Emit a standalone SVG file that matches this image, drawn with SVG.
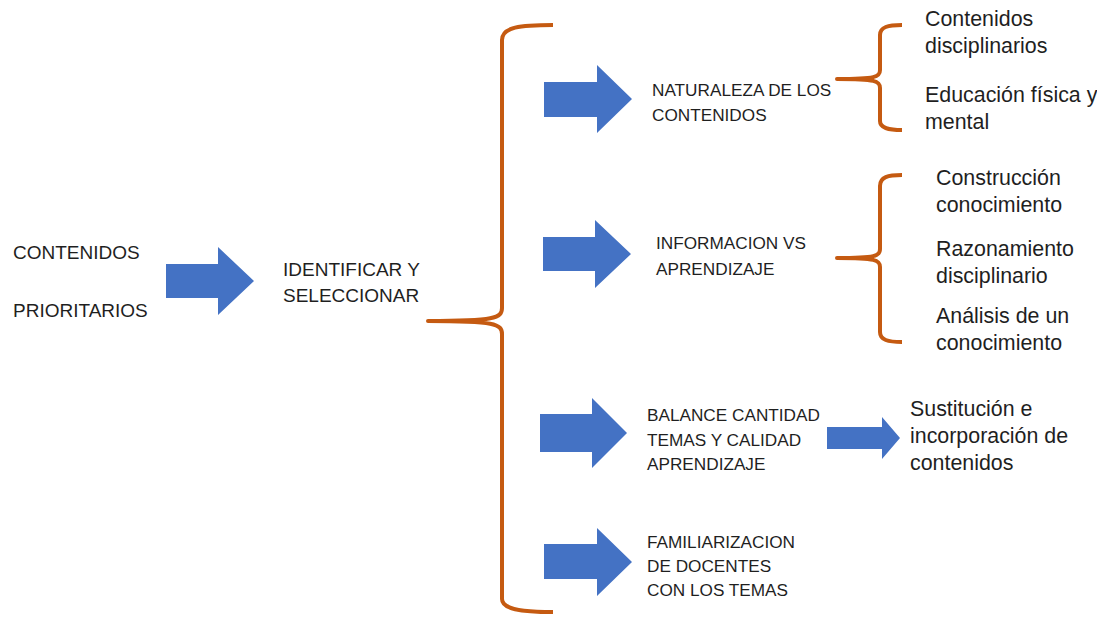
<svg xmlns="http://www.w3.org/2000/svg" width="1097" height="617" viewBox="0 0 1097 617">
  <style>
    .arrow { fill: #4472C4; }
    .brace { fill: none; stroke: #C55A11; stroke-width: 4; stroke-linecap: butt; stroke-linejoin: round; }
    text { font-family: "Liberation Sans", Arial, sans-serif; fill: #1f1f1f; }
    .big { font-size: 19px; }
    .cap { font-size: 17.2px; }
    .low { font-size: 21.4px; }
  </style>
  <rect width="1097" height="617" fill="#ffffff"/>

  <!-- connectors: block arrows and braces -->
  <g id="connectors">
    <polygon class="arrow" points="166,264 218,264 218,247 254,281 218,315 218,298 166,298"/>
    <polygon class="arrow" points="544,82 597,82 597,65 632,99 597,133 597,117 544,117"/>
    <polygon class="arrow" points="543,237 595,237 595,220 631,254 595,288 595,271 543,271"/>
    <polygon class="arrow" points="540,414 592,414 592,398 627,433 592,468 592,452 540,452"/>
    <polygon class="arrow" points="544,544 597,544 597,528 632,562 597,596 597,579 544,579"/>
    <polygon class="arrow" points="827,427 882,427 882,417 900,438 882,459 882,449 827,449"/>

    <path class="brace" d="M553,25 C520,25 502,27 502,40 L502,308 C502,318 495,321 428,321 C495,321 502,324 502,334 L502,599 C502,609 520,612 553,612"/>
    <path class="brace" d="M902,25 C888,25 880,27 880,35 L880,70 C880,77 876,79 837,79 C876,79 880,81 880,88 L880,121 C880,128 888,130 902,130"/>
    <path class="brace" d="M902,175 C888,175 880,177 880,186 L880,249 C880,256 876,258 837,258 C876,258 880,260 880,267 L880,332 C880,340 888,342 902,342"/>
  </g>

  <g id="contenidos-prioritarios">
    <text class="big" x="13" y="259">CONTENIDOS</text>
    <text class="big" x="13" y="317">PRIORITARIOS</text>
  </g>

  <g id="identificar">
    <text class="big" x="283" y="276">IDENTIFICAR Y</text>
    <text class="big" x="283" y="302">SELECCIONAR</text>
  </g>

  <g id="naturaleza">
    <text class="cap" x="652" y="96">NATURALEZA DE LOS</text>
    <text class="cap" x="652" y="121">CONTENIDOS</text>
  </g>

  <g id="informacion">
    <text class="cap" x="656" y="249">INFORMACION VS</text>
    <text class="cap" x="656" y="275">APRENDIZAJE</text>
  </g>

  <g id="balance">
    <text class="cap" x="647" y="421">BALANCE CANTIDAD</text>
    <text class="cap" x="647" y="446">TEMAS Y CALIDAD</text>
    <text class="cap" x="647" y="470">APRENDIZAJE</text>
  </g>

  <g id="familiarizacion">
    <text class="cap" x="647" y="548">FAMILIARIZACION</text>
    <text class="cap" x="647" y="572">DE DOCENTES</text>
    <text class="cap" x="647" y="596">CON LOS TEMAS</text>
  </g>

  <g id="contenidos-disciplinarios">
    <text class="low" x="925" y="26">Contenidos</text>
    <text class="low" x="925" y="53">disciplinarios</text>
  </g>

  <g id="educacion-fisica">
    <text class="low" x="925" y="102">Educación física y</text>
    <text class="low" x="925" y="129">mental</text>
  </g>

  <g id="construccion">
    <text class="low" x="936" y="185">Construcción</text>
    <text class="low" x="936" y="212">conocimiento</text>
  </g>

  <g id="razonamiento">
    <text class="low" x="936" y="256">Razonamiento</text>
    <text class="low" x="936" y="283">disciplinario</text>
  </g>

  <g id="analisis">
    <text class="low" x="936" y="323">Análisis de un</text>
    <text class="low" x="936" y="350">conocimiento</text>
  </g>

  <g id="sustitucion">
    <text class="low" x="910" y="416">Sustitución e</text>
    <text class="low" x="910" y="443">incorporación de</text>
    <text class="low" x="910" y="470">contenidos</text>
  </g>
</svg>
